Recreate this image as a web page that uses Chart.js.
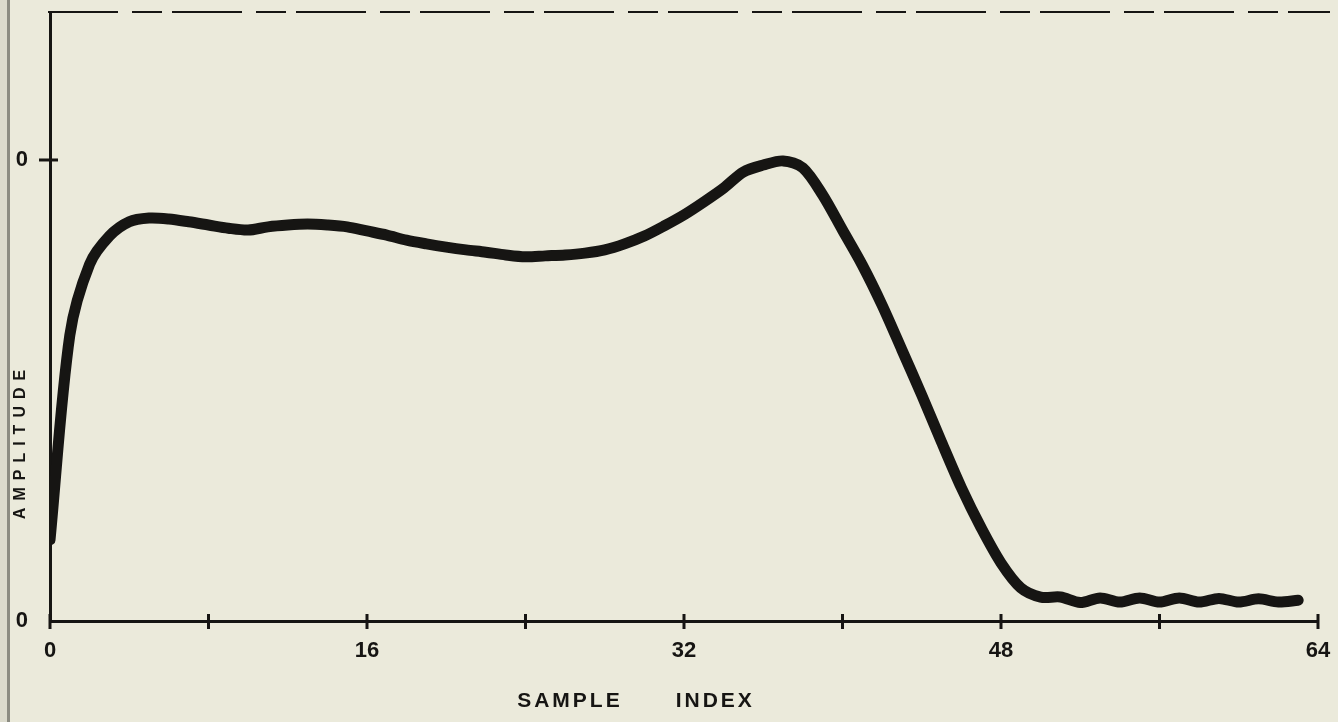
<!DOCTYPE html>
<html>
<head>
<meta charset="utf-8">
<script src="https://cdn.jsdelivr.net/npm/chart.js@4"></script>
<style>
  html, body { margin: 0; padding: 0; background: #ebeadb; }
  #wrap { width: 1338px; height: 722px; position: relative; }
  /* scanner edge on the left */
  #wrap::before { content: ''; position: absolute; left: 0; top: 0; bottom: 0; width: 7px; background: #dcdbcd; }
  #wrap::after { content: ''; position: absolute; left: 7px; top: 0; bottom: 0; width: 3px; background: #8c8c82; }
</style>
</head>
<body>
<div id="wrap"><canvas id="chart" width="1338" height="722"></canvas></div>
<script>
// values
const sampleIndex = [0, 1, 2, 3, 4, 5, 6, 7, 8, 9, 10, 11, 12, 13, 14, 15,
  16, 17, 18, 19, 20, 21, 22, 23, 24, 25, 26, 27, 28, 29, 30, 31,
  32, 33, 34, 35, 36, 37, 38, 39, 40, 41, 42, 43, 44, 45, 46, 47,
  48, 49, 50, 51, 52, 53, 54, 55, 56, 57, 58, 59, 60, 61, 62, 63];
const amplitude = [0.176, 0.62, 0.774, 0.835, 0.866, 0.874, 0.872, 0.866, 0.859, 0.852, 0.848, 0.855, 0.859, 0.861, 0.859, 0.855,
  0.846, 0.837, 0.826, 0.818, 0.811, 0.805, 0.800, 0.794, 0.790, 0.792, 0.794, 0.798, 0.805, 0.818, 0.835, 0.857,
  0.881, 0.909, 0.939, 0.974, 0.989, 0.998, 0.983, 0.924, 0.848, 0.772, 0.685, 0.588, 0.490, 0.388, 0.289, 0.202,
  0.126, 0.072, 0.052, 0.052, 0.040, 0.050, 0.041, 0.050, 0.041, 0.050, 0.041, 0.049, 0.041, 0.048, 0.041, 0.045];
const xTickLabels = ['0', '16', '32', '48', '64'];
const yTickValues = [0, 1];
const yTickLabels = ['0', '0'];
const xTitle = 'SAMPLE      INDEX';
const yTitle = 'AMPLITUDE';

const ink = '#161513';
const labelFont = { family: "'Liberation Sans', Arial, sans-serif", size: 22, weight: 'bold' };

// tick marks that cross the axes, dashed top edge, axis titles
const paperMarks = {
  id: 'paperMarks',
  afterDraw(chart) {
    const { ctx, chartArea: a, scales: { x, y } } = chart;
    ctx.save();
    ctx.strokeStyle = ink;
    ctx.lineWidth = 3;
    x.ticks.forEach(t => {
      const px = x.getPixelForValue(t.value);
      ctx.beginPath();
      ctx.moveTo(px, a.bottom - 7);
      ctx.lineTo(px, a.bottom + 8);
      ctx.stroke();
    });
    y.ticks.forEach(t => {
      if (t.value === 0) return;
      const py = y.getPixelForValue(t.value);
      ctx.beginPath();
      ctx.moveTo(a.left - 11, py);
      ctx.lineTo(a.left + 8, py);
      ctx.stroke();
    });

    ctx.lineWidth = 2;
    ctx.setLineDash([70, 14, 30, 10]);
    ctx.beginPath();
    ctx.moveTo(a.left - 2, a.top);
    ctx.lineTo(a.right + 12, a.top);
    ctx.stroke();
    ctx.setLineDash([]);

    ctx.fillStyle = ink;
    ctx.textAlign = 'center';
    ctx.textBaseline = 'middle';
    ctx.font = "bold 21px 'Liberation Sans', Arial, sans-serif";
    ctx.letterSpacing = '3px';
    ctx.fillText(xTitle, 636, 701);

    ctx.font = "bold 16px 'Liberation Sans', Arial, sans-serif";
    ctx.letterSpacing = '7px';
    ctx.translate(21, 441);
    ctx.rotate(-Math.PI / 2);
    ctx.fillText(yTitle, 0, 0);
    ctx.restore();
  }
};

new Chart(document.getElementById('chart'), {
  type: 'line',
  data: {
    datasets: [{
      data: sampleIndex.map((s, i) => ({ x: s, y: amplitude[i] })),
      borderColor: ink,
      borderWidth: 11,
      borderCapStyle: 'round',
      borderJoinStyle: 'round',
      pointRadius: 0,
      tension: 0.3,
      fill: false
    }]
  },
  options: {
    responsive: false,
    animation: false,
    layout: { padding: { top: 12, right: 20, left: 0, bottom: 0 } },
    plugins: { legend: { display: false }, tooltip: { enabled: false } },
    scales: {
      x: {
        type: 'linear',
        min: 0,
        max: 64,
        afterFit(s) { s.height = 101; s.paddingLeft = 0; s.paddingRight = 0; },
        grid: { display: false, drawTicks: false },
        border: { display: true, color: ink, width: 3 },
        ticks: {
          stepSize: 8,
          autoSkip: false,
          maxRotation: 0,
          padding: 17,
          color: ink,
          font: labelFont,
          callback: v => (v % 16 === 0 ? xTickLabels[v / 16] : '')
        }
      },
      y: {
        min: 0,
        max: 1.321,
        afterFit(s) { s.width = 50; s.paddingTop = 0; s.paddingBottom = 0; },
        afterBuildTicks(s) { s.ticks = yTickValues.map(v => ({ value: v })); },
        grid: { display: false, drawTicks: false },
        border: { display: true, color: ink, width: 3 },
        ticks: {
          padding: 22,
          color: ink,
          font: labelFont,
          callback: (v, i) => yTickLabels[i]
        }
      }
    }
  },
  plugins: [paperMarks]
});
</script>
</body>
</html>
